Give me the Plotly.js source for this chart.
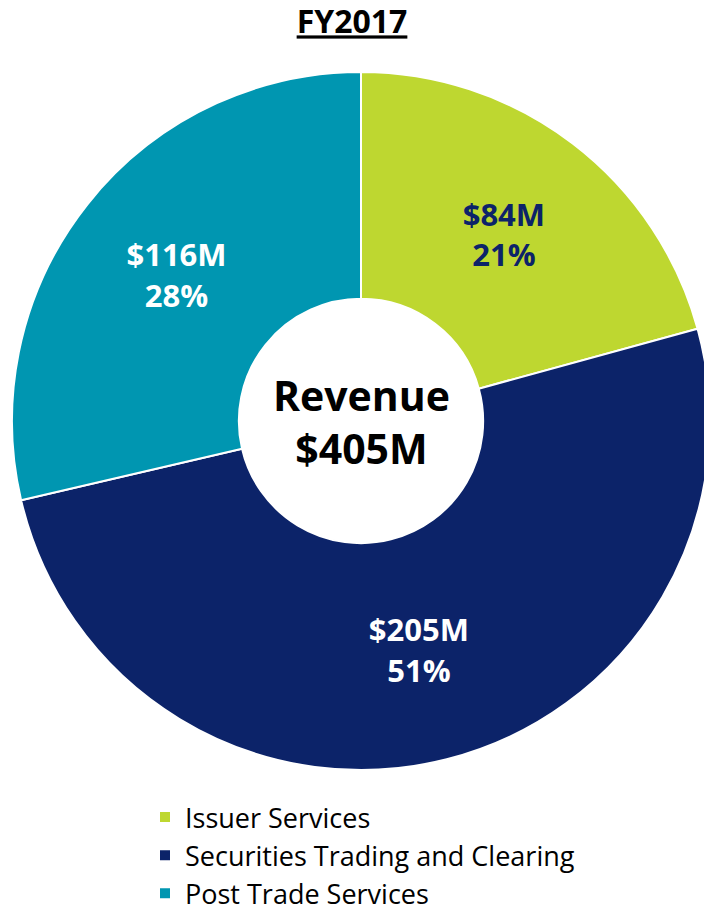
<!DOCTYPE html>
<html>
<head>
<meta charset="utf-8">
<script src="https://cdn.plot.ly/plotly-3.0.1.min.js"></script>
<style>
  html, body { margin: 0; padding: 0; overflow: hidden; background: #fff; }
  #chart { width: 722px; height: 919px; }
</style>
</head>
<body>
<div id="chart"></div>
<script>
// revenue split FY2017 ($M)
let segments = ["Issuer Services", "Securities Trading and Clearing", "Post Trade Services"];
let revenue = [84, 205, 116];
let shares = ["21%", "51%", "28%"];
let sliceColors = ["#BED730", "#0C2369", "#0096B1"];
let labelColors = ["#0C2369", "#FFFFFF", "#FFFFFF"];

let total = revenue.reduce((a, b) => a + b, 0);
let sliceText = revenue.map((v, i) => "<b>$" + v + "M<br>" + shares[i] + "</b>");

let fontFam = '"Open Sans", Lato, sans-serif';

let trace = {
    type: 'pie',
    labels: segments,
    values: revenue,
    text: sliceText,
    textinfo: 'text',
    textposition: 'inside',
    insidetextorientation: 'horizontal',
    insidetextfont: { family: fontFam, size: 31, color: labelColors },
    sort: false,
    direction: 'clockwise',
    rotation: 0,
    hole: 0.35,
    marker: { colors: sliceColors, line: { color: '#FFFFFF', width: 2 } },
    domain: { x: [0, 1], y: [1 - 770 / 919, 1 - 72 / 919] },
    hoverinfo: 'label+value'
};

let layout = {
    width: 722,
    height: 919,
    margin: { l: 0, r: 0, t: 0, b: 0 },
    paper_bgcolor: '#FFFFFF',
    title: {
        text: "<b><u>FY2017</u></b>",
        font: { family: fontFam, size: 32, color: '#000000' },
        x: 352 / 722,
        xanchor: 'center',
        y: 1 - 11 / 919,
        yanchor: 'top'
    },
    showlegend: true,
    legend: {
        x: 145 / 722,
        xanchor: 'left',
        y: 1 - 793 / 919,
        yanchor: 'top',
        font: { family: fontFam, size: 27, color: '#000000' },
        bgcolor: 'rgba(0,0,0,0)'
    },
    // donut centre label
    annotations: [{
        text: "<b>Revenue<br>$" + total + "M</b>",
        x: 361 / 722,
        y: 1 - 421 / 919,
        xref: 'paper',
        yref: 'paper',
        showarrow: false,
        font: { family: fontFam, size: 41, color: '#000000' }
    }]
};

Plotly.newPlot('chart', [trace], layout, { staticPlot: true });
</script>
</body>
</html>
